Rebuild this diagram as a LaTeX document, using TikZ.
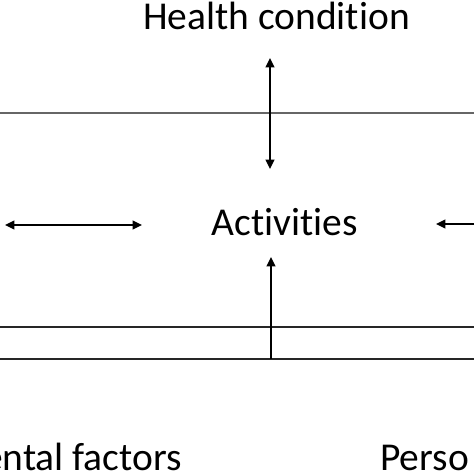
\documentclass[tikz,border=0pt]{standalone}
\usepackage{fontspec}
\setmainfont[Ligatures=NoCommon]{Carlito}
\usetikzlibrary{arrows.meta}

\begin{document}
\begin{tikzpicture}[x=0.03cm,y=-0.03cm,
    label text/.style ={inner sep = 0pt, anchor=base, font=\fontsize{33.7}{36}\selectfont},
    link/.style ={line width=1.3pt, {Triangle[length=0.28cm,width=0.26cm]}-{Triangle[length=0.28cm,width=0.26cm]}},
    uplink/.style ={line width=1.3pt, -{Triangle[length=0.28cm,width=0.26cm]}}]
   \useasboundingbox (0,0) rectangle (474,474);
   \node[label text] (health) at (276.5,29) {Health condition};
   \node[label text] (activ) at (285,235) {Activities};
   \node[label text, anchor=base east] (envir) at (182,470) {ental factors};
   \node[label text, anchor=base west] (perso) at (380,470) {Perso};
   \coordinate (h1) at (270,58);
   \coordinate (h2) at (270,169);
   \coordinate (l1) at (5,225);
   \coordinate (l2) at (142,225);
   \coordinate (r1) at (436,224);
   \coordinate (r2) at (474,224);
   \coordinate (u1) at (271,359);
   \coordinate (u2) at (271,257);
   \draw[line width=2.5pt, black!60] (0,113) -- (474,113);
   \draw[line width=1.3pt, black!85] (0,327) -- (474,327);
   \draw[line width=1.3pt, black!85] (0,359) -- (474,359);
   \draw[link] (h1) -- (h2);
   \draw[link] (l1) -- (l2);
   \draw[uplink] (r2) -- (r1);
   \draw[uplink] (u1) -- (u2);
 \end{tikzpicture}
\end{document}
